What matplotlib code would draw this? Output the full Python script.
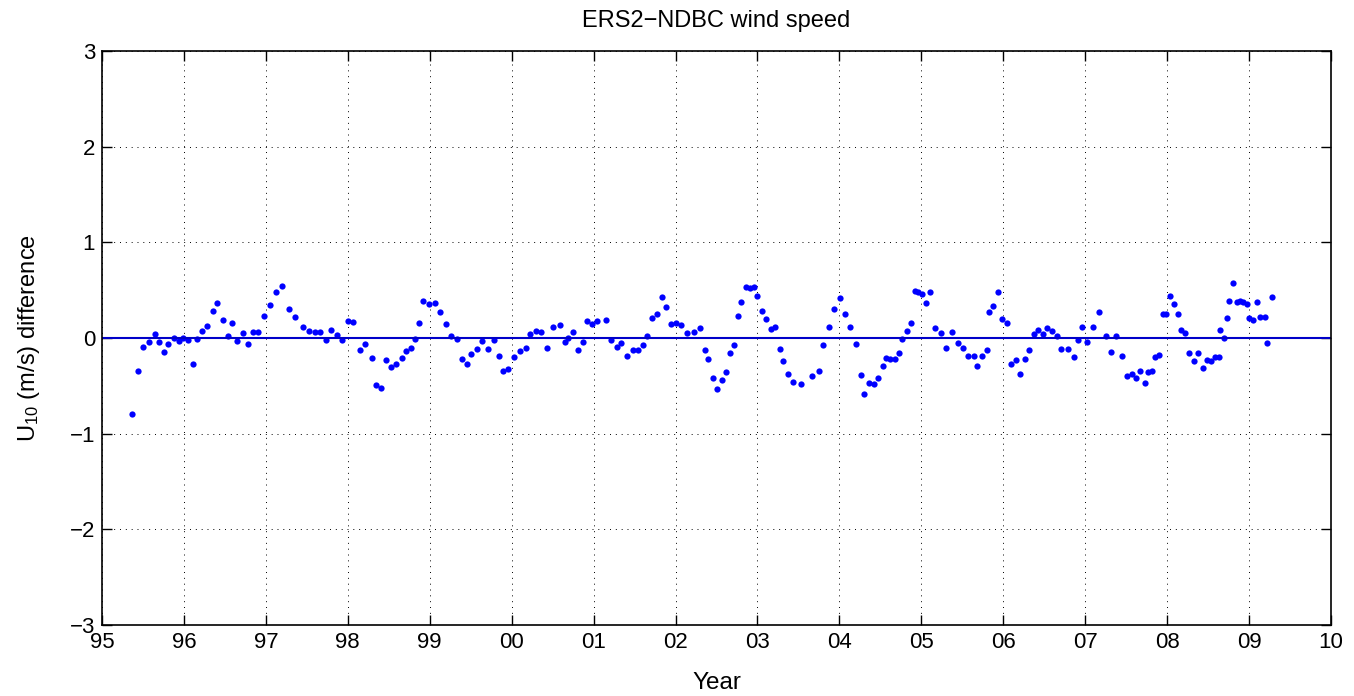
import numpy as np
import matplotlib
matplotlib.use("Agg")
import matplotlib.pyplot as plt

plt.rcParams['font.family'] = ['Liberation Sans', 'DejaVu Sans']
plt.rcParams['mathtext.default'] = 'regular'

# monthly-ish ERS2 minus NDBC wind speed differences (m/s)
years = [
    1995.37, 1995.44, 1995.50, 1995.57, 1995.65, 1995.70, 1995.76, 1995.81, 1995.88, 1995.94,
    1995.99, 1996.05, 1996.11, 1996.16, 1996.22, 1996.28, 1996.35, 1996.41, 1996.48, 1996.54,
    1996.59, 1996.65, 1996.72, 1996.78, 1996.84, 1996.91, 1996.98, 1997.05, 1997.13, 1997.20,
    1997.28, 1997.35, 1997.45, 1997.53, 1997.60, 1997.66, 1997.73, 1997.80, 1997.87, 1997.93,
    1998.00, 1998.07, 1998.15, 1998.21, 1998.29, 1998.35, 1998.41, 1998.47, 1998.53, 1998.59,
    1998.66, 1998.71, 1998.77, 1998.82, 1998.87, 1998.92, 1998.99, 1999.06, 1999.13, 1999.20,
    1999.26, 1999.33, 1999.39, 1999.45, 1999.51, 1999.58, 1999.64, 1999.71, 1999.78, 1999.85,
    1999.90, 1999.96, 2000.03, 2000.10, 2000.17, 2000.23, 2000.30, 2000.36, 2000.43, 2000.51,
    2000.59, 2000.65, 2000.69, 2000.75, 2000.81, 2000.87, 2000.92, 2000.98, 2001.04, 2001.15,
    2001.21, 2001.28, 2001.34, 2001.41, 2001.48, 2001.54, 2001.60, 2001.65, 2001.71, 2001.77,
    2001.83, 2001.88, 2001.94, 2002.01, 2002.07, 2002.14, 2002.22, 2002.30, 2002.36, 2002.40,
    2002.46, 2002.51, 2002.57, 2002.62, 2002.67, 2002.71, 2002.76, 2002.80, 2002.86, 2002.91,
    2002.96, 2003.00, 2003.06, 2003.11, 2003.16, 2003.21, 2003.27, 2003.31, 2003.37, 2003.43,
    2003.53, 2003.67, 2003.75, 2003.80, 2003.87, 2003.93, 2004.01, 2004.07, 2004.13, 2004.20,
    2004.26, 2004.30, 2004.36, 2004.42, 2004.47, 2004.53, 2004.57, 2004.62, 2004.68, 2004.73,
    2004.77, 2004.82, 2004.87, 2004.92, 2004.96, 2005.01, 2005.06, 2005.11, 2005.17, 2005.24,
    2005.30, 2005.38, 2005.45, 2005.51, 2005.57, 2005.64, 2005.68, 2005.74, 2005.80, 2005.83,
    2005.88, 2005.94, 2005.99, 2006.04, 2006.10, 2006.15, 2006.21, 2006.26, 2006.32, 2006.37,
    2006.43, 2006.48, 2006.54, 2006.59, 2006.66, 2006.71, 2006.79, 2006.86, 2006.91, 2006.96,
    2007.02, 2007.09, 2007.17, 2007.25, 2007.31, 2007.38, 2007.45, 2007.51, 2007.57, 2007.62,
    2007.67, 2007.73, 2007.77, 2007.82, 2007.85, 2007.90, 2007.95, 2007.99, 2008.04, 2008.09,
    2008.13, 2008.17, 2008.22, 2008.27, 2008.33, 2008.38, 2008.44, 2008.49, 2008.54, 2008.59,
    2008.63, 2008.65, 2008.69, 2008.73, 2008.76, 2008.81, 2008.85, 2008.89, 2008.93, 2008.97,
    2009.00, 2009.05, 2009.10, 2009.13, 2009.19, 2009.22, 2009.28,
]
diff = [
    -0.79, -0.35, -0.09, -0.04, 0.04, -0.04, -0.15, -0.06, 0.00, -0.03,
    0.00, -0.02, -0.27, -0.01, 0.07, 0.13, 0.28, 0.37, 0.19, 0.02,
    0.16, -0.03, 0.05, -0.06, 0.06, 0.06, 0.23, 0.35, 0.48, 0.54,
    0.30, 0.22, 0.12, 0.07, 0.06, 0.06, -0.02, 0.08, 0.03, -0.02,
    0.18, 0.17, -0.13, -0.06, -0.21, -0.49, -0.52, -0.23, -0.30, -0.27,
    -0.21, -0.14, -0.10, -0.01, 0.16, 0.39, 0.36, 0.37, 0.27, 0.15,
    0.02, -0.01, -0.22, -0.27, -0.17, -0.12, -0.03, -0.11, -0.02, -0.19,
    -0.34, -0.32, -0.20, -0.14, -0.10, 0.04, 0.07, 0.06, -0.10, 0.11,
    0.14, -0.04, 0.00, 0.06, -0.13, -0.04, 0.18, 0.15, 0.18, 0.19,
    -0.02, -0.09, -0.05, -0.19, -0.13, -0.13, -0.07, 0.02, 0.21, 0.25,
    0.43, 0.32, 0.15, 0.16, 0.14, 0.05, 0.06, 0.10, -0.13, -0.22,
    -0.42, -0.53, -0.44, -0.36, -0.16, -0.07, 0.23, 0.38, 0.53, 0.52,
    0.53, 0.44, 0.28, 0.20, 0.09, 0.12, -0.12, -0.24, -0.38, -0.46,
    -0.48, -0.40, -0.35, -0.07, 0.12, 0.30, 0.42, 0.25, 0.11, -0.06,
    -0.39, -0.59, -0.47, -0.48, -0.42, -0.29, -0.21, -0.22, -0.22, -0.16,
    -0.01, 0.07, 0.16, 0.49, 0.48, 0.46, 0.37, 0.48, 0.10, 0.05,
    -0.10, 0.06, -0.05, -0.10, -0.19, -0.19, -0.29, -0.19, -0.13, 0.27,
    0.33, 0.48, 0.20, 0.16, -0.27, -0.23, -0.38, -0.22, -0.13, 0.04,
    0.08, 0.04, 0.10, 0.07, 0.02, -0.12, -0.12, -0.20, -0.02, 0.11,
    -0.04, 0.11, 0.27, 0.02, -0.15, 0.02, -0.19, -0.40, -0.38, -0.42,
    -0.35, -0.47, -0.36, -0.35, -0.20, -0.18, 0.25, 0.25, 0.44, 0.36,
    0.25, 0.08, 0.05, -0.16, -0.24, -0.16, -0.31, -0.23, -0.24, -0.20,
    -0.20, 0.08, 0.00, 0.21, 0.39, 0.57, 0.38, 0.39, 0.38, 0.36,
    0.21, 0.19, 0.38, 0.22, 0.22, -0.05, 0.43,
]
tick_years = list(range(1995, 2011))
tick_labels = ['%02d' % (y % 100) for y in tick_years]
y_ticks = [-3, -2, -1, 0, 1, 2, 3]

fig = plt.figure(figsize=(13.54, 6.96), dpi=100)
ax = fig.add_axes([0.0753, 0.102, 0.9077, 0.8247])

ax.plot(years, diff, 'o', color='#0000ff', markersize=4.5, markeredgewidth=0)
ax.axhline(0, color='#0000c8', linewidth=1.5)

ax.set_xlim(1995, 2010)
ax.set_ylim(-3, 3)
ax.set_xticks(tick_years)
ax.set_xticklabels(tick_labels)
ax.set_yticks(y_ticks)

ax.grid(True, color='k', linestyle=(0, (1, 5)), linewidth=0.7)
ax.tick_params(direction='in', length=7, width=1, top=True, right=True,
               labelsize=16, pad=5)
for s in ax.spines.values():
    s.set_linewidth(1.2)

ax.set_title('ERS2\u2212NDBC wind speed', fontsize=17, pad=17)
ax.set_xlabel('Year', fontsize=17.5, labelpad=14)
ax.set_ylabel('U$_{10}$ (m/s) difference', fontsize=17, labelpad=20)

fig.savefig('out.png', dpi=100)
